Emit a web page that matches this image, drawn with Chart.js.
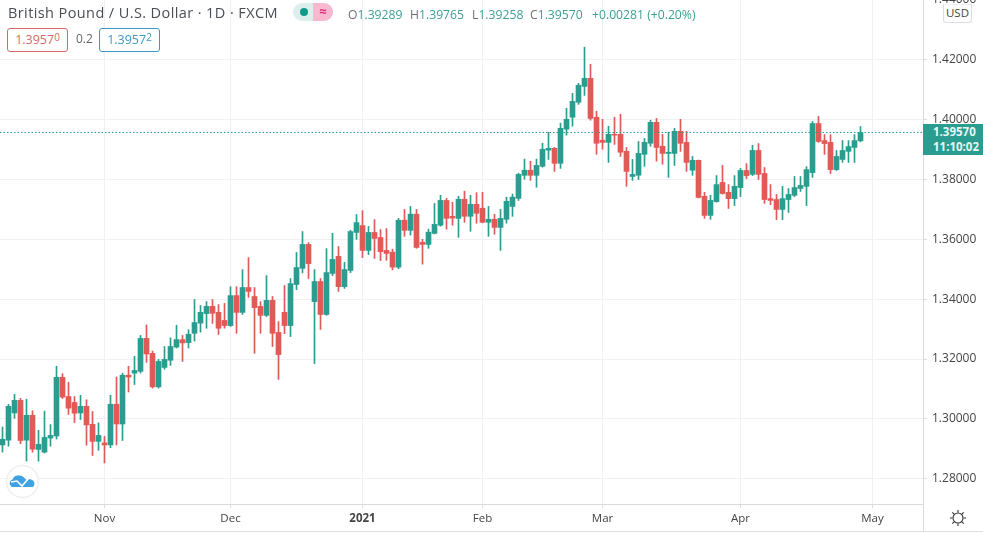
<!DOCTYPE html>
<html>
<head>
<meta charset="utf-8">
<script src="https://cdn.jsdelivr.net/npm/chart.js@4/dist/chart.umd.min.js"></script>
<style>
html, body { margin: 0; padding: 0; background: #fff; overflow: hidden; }
body { width: 983px; height: 534px; position: relative; font-family: "Open Sans", sans-serif; }
canvas { position: absolute; left: 0; top: -20px; }
.abs { position: absolute; white-space: nowrap; }
.title { left: 8px; top: 3px; font-size: 14.5px; line-height: 20px; color: #4a4d55; letter-spacing: 0.4px; }
.pill { left: 293px; top: 3px; width: 40px; height: 18px; border-radius: 9px; overflow: hidden; background: #dcefec; }
.pill .pink { position: absolute; right: 0; top: 0; width: 20px; height: 18px; background: #f7b8d0; color: #d8357e; font-size: 13px; line-height: 17px; text-align: center; font-weight: bold; }
.pill .dot { position: absolute; left: 7px; top: 5px; width: 8px; height: 8px; border-radius: 4px; background: #0f9b8a; }
.ohlc { top: 7px; font-size: 12.2px; line-height: 16px; color: #3d9e93; }
.ohlc b { font-weight: normal; color: #6d7078; }
.box { top: 28px; height: 22px; border-radius: 3px; border: 1px solid; background: #fff; font-size: 12.5px; line-height: 22px; text-align: center; }
.box sup { font-size: 10px; line-height: 0; vertical-align: 3px; }
.usd { left: 943px; top: 4px; width: 27px; height: 17px; background: #fff; border: 1px solid #ddd; border-top-color: #eee; border-radius: 0 0 3px 3px; text-align: center; font-size: 11.5px; line-height: 16px; color: #444; }
.price { left: 923px; top: 124px; width: 50px; height: 31px; padding-left: 10px; background: #2a9d90; color: #e6f6f3; font-size: 11.5px; line-height: 15px; font-weight: bold; }
.vline { left: 923px; top: 504px; width: 1px; height: 28px; background: #d9dadd; }
.hline { left: 0; top: 531px; width: 983px; height: 1px; background: #dedfe2; }
</style>
</head>
<body>
<canvas id="myChart" width="983" height="554"></canvas>

<div class="abs title">British Pound / U.S. Dollar · 1D · FXCM</div>
<div class="abs pill"><div class="dot"></div><div class="pink">≈</div></div>
<div class="abs ohlc" style="left:348px"><b>O</b>1.39289</div>
<div class="abs ohlc" style="left:410px"><b>H</b>1.39765</div>
<div class="abs ohlc" style="left:472px"><b>L</b>1.39258</div>
<div class="abs ohlc" style="left:530px"><b>C</b>1.39570</div>
<div class="abs ohlc" style="left:592px">+0.00281 (+0.20%)</div>
<div class="abs box" style="left:7px;width:59px;border-color:#d46a6a;color:#d46a6a">1.3957<sup>0</sup></div>
<div class="abs" style="left:76px;top:31px;font-size:12px;line-height:16px;color:#666">0.2</div>
<div class="abs box" style="left:99px;width:59px;border-color:#3f97c4;color:#3f97c4">1.3957<sup>2</sup></div>
<div class="abs usd">USD</div>
<div class="abs price"><div>1.39570</div><div>11:10:02</div></div>
<div class="abs vline"></div>
<div class="abs hline"></div>

<svg class="abs" style="left:5px;top:464px" width="35" height="35" viewBox="0 0 35 35">
  <circle cx="17.5" cy="17.5" r="16" fill="#fff" stroke="#eceef1" stroke-width="1.5"/>
  <path d="M7 23 a4 4 0 0 1 0.5 -7.5 a6 6 0 0 1 6.5 -4 a6 6 0 0 1 5 2 l3 3 a4 4 0 0 1 6 6.5 z" fill="#3ea3e0"/>
  <path d="M6 18 l6 -1 l5 5 l6 -7" fill="none" stroke="#fff" stroke-width="1.6"/>
</svg>
<svg class="abs" style="left:949px;top:509px" width="18" height="18" viewBox="0 0 18 18" fill="none" stroke="#333" stroke-width="1.1">
  <circle cx="9" cy="9" r="5"/>
  <path d="M9 1v2.5M9 14.500v2.500M1 9h2.500M14.500 9h2.500M3.300 3.300l1.800 1.800M12.900 12.900l1.800 1.800M14.700 3.300l-1.800 1.800M5.100 12.900l-1.800 1.800"/>
</svg>

<script>
//------------data------------------------------------
const opens = [1.2913,1.2929,1.3020,1.3062,1.2929,1.3012,1.2898,1.2889,1.2936,1.2943,
  1.3139,1.3075,1.3055,1.3020,1.3042,1.2982,1.2925,1.2920,1.2913,1.3049,
  1.2983,1.3146,1.3153,1.3159,1.3269,1.3219,1.3107,1.3172,1.3196,1.3240,
  1.3265,1.3255,1.3286,1.3320,1.3352,1.3376,1.3356,1.3329,1.3312,1.3412,
  1.3356,1.3439,1.3409,1.3376,1.3346,1.3396,1.3289,1.3356,1.3312,1.3449,
  1.3503,1.3583,1.3392,1.3459,1.3349,1.3486,1.3543,1.3442,1.3496,1.3623,
  1.3646,1.3563,1.3623,1.3606,1.3563,1.3557,1.3507,1.3664,1.3630,1.3684,
  1.3590,1.3583,1.3620,1.3647,1.3730,1.3677,1.3670,1.3734,1.3677,1.3717,
  1.3704,1.3657,1.3667,1.3640,1.3667,1.3710,1.3737,1.3814,1.3831,1.3814,
  1.3844,1.3898,1.3904,1.3854,1.3968,1.4008,1.4058,1.4111,1.4138,1.4008,
  1.3931,1.3924,1.3951,1.3951,1.3894,1.3810,1.3814,1.3884,1.3921,1.3991,
  1.3911,1.3887,1.3887,1.3961,1.3924,1.3831,1.3864,1.3744,1.3680,1.3726,
  1.3790,1.3757,1.3736,1.3773,1.3830,1.3817,1.3897,1.3820,1.3736,1.3733,
  1.3700,1.3733,1.3747,1.3770,1.3777,1.3823,1.3987,1.3930,1.3924,1.3833,
  1.3867,1.3894,1.3907,1.3929];

const highs = [1.2973,1.3049,1.3082,1.3069,1.3066,1.3027,1.2962,1.3026,1.2981,1.3176,
  1.3151,1.3122,1.3075,1.3079,1.3064,1.3025,1.2987,1.2942,1.3079,1.3140,
  1.3153,1.3176,1.3209,1.3279,1.3314,1.3227,1.3199,1.3242,1.3271,1.3313,
  1.3279,1.3298,1.3399,1.3379,1.3392,1.3399,1.3382,1.3386,1.3442,1.3442,
  1.3499,1.3539,1.3439,1.3392,1.3479,1.3409,1.3325,1.3446,1.3469,1.3556,
  1.3626,1.3589,1.3499,1.3469,1.3569,1.3620,1.3576,1.3523,1.3630,1.3683,
  1.3696,1.3643,1.3666,1.3633,1.3636,1.3567,1.3670,1.3700,1.3710,1.3700,
  1.3600,1.3634,1.3720,1.3747,1.3737,1.3724,1.3744,1.3761,1.3747,1.3756,
  1.3757,1.3710,1.3684,1.3700,1.3741,1.3751,1.3821,1.3868,1.3861,1.3868,
  1.3921,1.3958,1.3907,1.3988,1.4038,1.4088,1.4121,1.4242,1.4185,1.4028,
  1.4001,1.3978,1.4008,1.4018,1.3907,1.3867,1.3927,1.3937,1.3998,1.4004,
  1.3951,1.3958,1.3971,1.4001,1.3961,1.3877,1.3865,1.3757,1.3747,1.3813,
  1.3847,1.3783,1.3813,1.3837,1.3853,1.3914,1.3920,1.3840,1.3783,1.3750,
  1.3777,1.3770,1.3810,1.3810,1.3843,1.3994,1.4011,1.3950,1.3950,1.3897,
  1.3930,1.3930,1.3950,1.3977];

const lows = [1.2889,1.2909,1.3002,1.2917,1.2859,1.2889,1.2859,1.2886,1.2909,1.2933,
  1.3068,1.3015,1.2988,1.2998,1.2912,1.2878,1.2895,1.2853,1.2904,1.2913,
  1.2928,1.3090,1.3115,1.3153,1.3189,1.3103,1.3103,1.3166,1.3179,1.3237,
  1.3192,1.3237,1.3260,1.3290,1.3303,1.3319,1.3282,1.3303,1.3309,1.3286,
  1.3349,1.3406,1.3219,1.3286,1.3342,1.3242,1.3132,1.3285,1.3275,1.3432,
  1.3488,1.3469,1.3185,1.3299,1.3346,1.3479,1.3426,1.3436,1.3489,1.3600,
  1.3539,1.3549,1.3536,1.3529,1.3530,1.3498,1.3502,1.3610,1.3614,1.3570,
  1.3517,1.3570,1.3618,1.3644,1.3634,1.3647,1.3607,1.3657,1.3627,1.3654,
  1.3655,1.3610,1.3617,1.3563,1.3654,1.3677,1.3730,1.3801,1.3797,1.3774,
  1.3841,1.3867,1.3827,1.3837,1.3948,1.3978,1.4051,1.4081,1.3998,1.3884,
  1.3901,1.3857,1.3917,1.3877,1.3777,1.3797,1.3800,1.3844,1.3911,1.3861,
  1.3851,1.3807,1.3847,1.3894,1.3827,1.3814,1.3738,1.3670,1.3667,1.3724,
  1.3751,1.3703,1.3713,1.3743,1.3803,1.3813,1.3800,1.3720,1.3716,1.3666,
  1.3666,1.3690,1.3743,1.3760,1.3713,1.3807,1.3924,1.3884,1.3820,1.3830,
  1.3857,1.3857,1.3857,1.3926];

const closes = [1.2932,1.3042,1.3062,1.2928,1.3012,1.2899,1.2915,1.2938,1.2945,1.3139,
  1.3073,1.3036,1.3019,1.3042,1.2980,1.2925,1.2945,1.2913,1.3049,1.2983,
  1.3146,1.3140,1.3162,1.3269,1.3217,1.3107,1.3192,1.3199,1.3242,1.3265,
  1.3254,1.3283,1.3322,1.3356,1.3376,1.3353,1.3303,1.3312,1.3412,1.3356,
  1.3439,1.3426,1.3372,1.3346,1.3396,1.3286,1.3215,1.3312,1.3452,1.3506,
  1.3583,1.3519,1.3459,1.3349,1.3489,1.3533,1.3442,1.3499,1.3626,1.3656,
  1.3563,1.3623,1.3603,1.3559,1.3553,1.3507,1.3664,1.3630,1.3684,1.3573,
  1.3583,1.3624,1.3650,1.3730,1.3670,1.3671,1.3734,1.3677,1.3717,1.3687,
  1.3657,1.3667,1.3640,1.3670,1.3727,1.3741,1.3817,1.3831,1.3814,1.3847,
  1.3901,1.3904,1.3854,1.3971,1.4001,1.4061,1.4115,1.4138,1.4004,1.3921,
  1.3924,1.3951,1.3948,1.3891,1.3827,1.3817,1.3887,1.3924,1.3991,1.3907,
  1.3887,1.3891,1.3961,1.3921,1.3857,1.3864,1.3740,1.3680,1.3730,1.3783,
  1.3753,1.3736,1.3777,1.3830,1.3813,1.3897,1.3817,1.3733,1.3730,1.3700,
  1.3736,1.3750,1.3773,1.3780,1.3833,1.3987,1.3927,1.3920,1.3833,1.3877,
  1.3897,1.3910,1.3930,1.3957];

const monthTicks = [17, 38, 60, 80, 100, 123, 145];
const monthLabels = ['Nov', 'Dec', '2021', 'Feb', 'Mar', 'Apr', 'May'];
const priceTicks = [1.28, 1.30, 1.32, 1.34, 1.36, 1.38, 1.40, 1.42, 1.44];
const lastPrice = closes[closes.length - 1];

const upColor = '#2a9d90';
const downColor = '#e05a56';
const gridColor = '#eff1f4';
const axisColor = '#d9dadd';
const xMin = -2.5 / 6;
const xMax = xMin + 923 / 6;

const candleColors = closes.map(function (c, i) {
    return c >= opens[i] ? upColor : downColor;
});

const config = {
    type: 'bar',
    data: {
        datasets: [
            {
                type: 'line',
                data: [{ x: xMin, y: lastPrice }, { x: xMax, y: lastPrice }],
                borderColor: upColor,
                borderWidth: 1,
                borderDash: [1.5, 2],
                pointRadius: 0,
                order: 0
            },
            {
                data: lows.map(function (l, i) { return { x: i, y: [l, highs[i]] }; }),
                backgroundColor: candleColors,
                barThickness: 1,
                order: 2
            },
            {
                data: opens.map(function (o, i) { return { x: i, y: [o, closes[i]] }; }),
                backgroundColor: candleColors,
                barThickness: 5,
                order: 1
            }
        ]
    },
    options: {
        responsive: false,
        animation: false,
        layout: { padding: { top: 19.9, left: 0, right: 0, bottom: 0 } },
        plugins: { legend: { display: false }, tooltip: { enabled: false } },
        scales: {
            x: {
                type: 'linear',
                offset: false,
                stacked: true,
                min: xMin,
                max: xMax,
                afterFit: function (scale) { scale.height = 30; },
                afterBuildTicks: function (scale) {
                    scale.ticks = monthTicks.map(function (v) { return { value: v }; });
                },
                grid: { offset: false, color: gridColor, tickColor: axisColor, tickLength: 4 },
                border: { color: axisColor },
                ticks: {
                    color: '#444',
                    padding: 4,
                    maxRotation: 0,
                    autoSkip: false,
                    font: function (ctx) {
                        return {
                            family: '"Open Sans", sans-serif',
                            size: 11.5,
                            weight: ctx.tick && ctx.tick.value === 60 ? 'bold' : 'normal'
                        };
                    },
                    callback: function (v) { return monthLabels[monthTicks.indexOf(v)]; }
                }
            },
            y: {
                position: 'right',
                min: 1.44 - 504.1 / 2993,
                max: 1.44,
                afterFit: function (scale) { scale.width = 60; },
                afterBuildTicks: function (scale) {
                    scale.ticks = priceTicks.map(function (v) { return { value: v }; });
                },
                grid: { color: gridColor, tickColor: axisColor, tickLength: 4 },
                border: { color: axisColor },
                ticks: {
                    color: '#444',
                    padding: 5,
                    font: { family: '"Open Sans", sans-serif', size: 12 },
                    callback: function (v) { return v.toFixed(5); }
                }
            }
        }
    }
};

const myChart = new Chart(document.getElementById('myChart'), config);
</script>
</body>
</html>
